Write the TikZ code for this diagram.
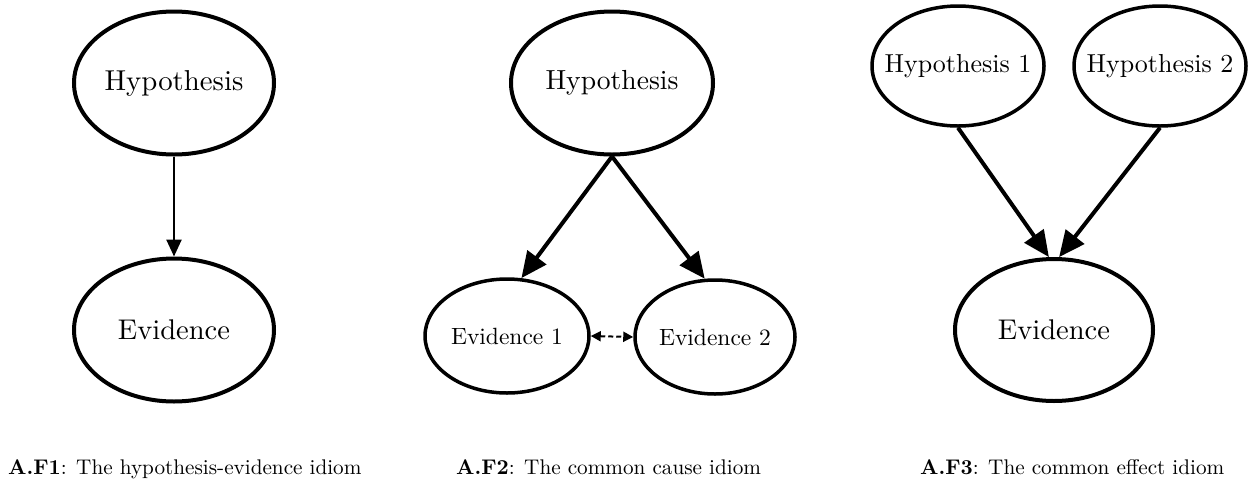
\documentclass[tikz,border=0pt]{standalone}
\usetikzlibrary{shapes.geometric,arrows.meta,calc}
% text set at 10pt and enlarged, keeping the 10pt design
\newcommand{\sctext}[2]{\scalebox{#1}{\fontsize{10}{12}\selectfont #2}}
% label inside an ellipse: zero width so the ellipse keeps its own size
\newcommand{\ovaltext}[2]{\makebox[0pt]{\sctext{#1}{#2}}}
\begin{document}
\begin{tikzpicture}[x=1pt,y=-1pt,
  varnode/.style={draw=black,ellipse,inner sep=0pt,align=center},
  captxt/.style={anchor=base west,inner sep=0pt},
  thinlink/.style={line width=2.5pt,-{Triangle[length=17pt,width=15pt]}},
  thicklink/.style={line width=4pt,-{Triangle[length=26pt,width=23pt]}},
  duallink/.style={line width=2pt,dash pattern=on 5pt off 3pt,
    {Triangle[length=10pt,width=10pt]}-{Triangle[length=10pt,width=10pt]}}
]
\useasboundingbox (0,0) rectangle (1248,483);
\fill[white] (0,0) rectangle (1248,483);

% hypothesis-evidence idiom
\node[varnode,line width=4pt,minimum width=200pt,minimum height=143pt] (h1) at (174,83) {\ovaltext{2.88}{Hypothesis}};
\node[varnode,line width=4pt,minimum width=200pt,minimum height=143pt] (e1) at (174,330) {\ovaltext{2.85}{Evidence}};
\draw[thinlink] (h1.south) -- (e1.north);

% common cause idiom
\node[varnode,line width=4pt,minimum width=202pt,minimum height=143pt] (h2) at (612,83) {\ovaltext{2.76}{Hypothesis}};
\node[varnode,line width=3.5pt,minimum width=164pt,minimum height=114pt] (e21) at (507,336) {\ovaltext{2.35}{Evidence 1}};
\node[varnode,line width=3.5pt,minimum width=160pt,minimum height=114pt] (e22) at (715,337) {\ovaltext{2.35}{Evidence 2}};
\draw[thicklink] (h2.south) -- (e21.76);
\draw[thicklink] (h2.south) -- (e22.100);
\draw[duallink] (e21.east) -- (e22.west);

% common effect idiom
\node[varnode,line width=3.5pt,minimum width=172pt,minimum height=120pt] (h31) at (958,66) {\ovaltext{2.6}{Hypothesis 1}};
\node[varnode,line width=3.5pt,minimum width=172pt,minimum height=120pt] (h32) at (1160,66) {\ovaltext{2.6}{Hypothesis 2}};
\node[varnode,line width=4pt,minimum width=198pt,minimum height=142pt] (e3) at (1054,330) {\ovaltext{2.85}{Evidence}};
\draw[thicklink] (h31.south) -- (e3.94);
\draw[thicklink] (h32.south) -- (e3.86);

% captions
\node[captxt] (c1) at (8,474) {\sctext{2.12}{\textbf{A.F1}: The hypothesis-evidence idiom}};
\node[captxt] (c2) at (456,474) {\sctext{2.12}{\textbf{A.F2}: The common cause idiom}};
\node[captxt] (c3) at (920,474) {\sctext{2.12}{\textbf{A.F3}: The common effect idiom}};
\end{tikzpicture}
\end{document}
